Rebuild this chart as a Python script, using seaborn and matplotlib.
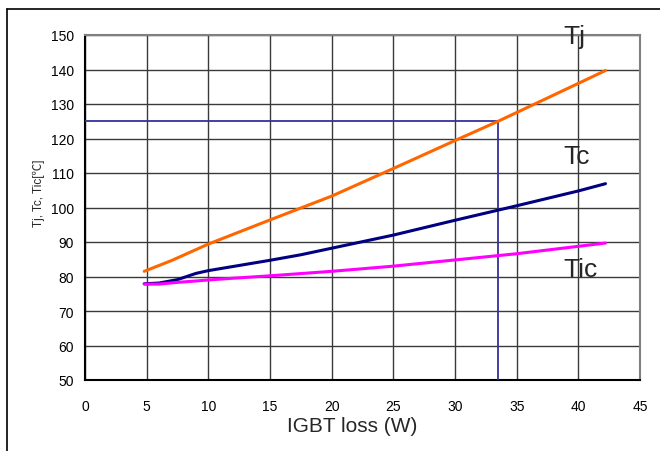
import pandas as pd
import matplotlib.pyplot as plt
import seaborn as sns
from matplotlib.lines import Line2D

# IGBT loss (W) vs temperature
tj_x = [4.8, 7.0, 10.0, 11.5, 15.0, 20.0, 25.0, 30.0, 33.5, 37.0, 42.2]
tj_y = [81.5, 84.6, 89.4, 91.5, 96.4, 103.3, 111.3, 119.4, 125.0, 130.9, 139.7]

tc_x = [4.8, 6.0, 7.5, 9.0, 10.0, 12.0, 15.0, 17.5, 20.0, 25.0, 30.0, 35.0, 40.0, 42.2]
tc_y = [77.9, 78.1, 79.1, 80.9, 81.7, 82.9, 84.7, 86.3, 88.2, 92.0, 96.3, 100.5, 104.8, 106.9]

tic_x = [4.8, 6.0, 7.5, 9.0, 10.0, 12.0, 15.0, 20.0, 25.0, 30.0, 35.0, 42.2]
tic_y = [77.8, 77.8, 78.3, 78.7, 79.0, 79.5, 80.2, 81.5, 83.0, 84.8, 86.6, 89.7]

# operating point marker lines
op_x = 33.5
op_y = 125

series = ['Tj', 'Tc', 'Tic']
colors = ['#FF6600', '#000080', '#FF00FF']

df = pd.concat([
    pd.DataFrame({'loss': tj_x, 'temp': tj_y, 'name': 'Tj'}),
    pd.DataFrame({'loss': tc_x, 'temp': tc_y, 'name': 'Tc'}),
    pd.DataFrame({'loss': tic_x, 'temp': tic_y, 'name': 'Tic'}),
])

sns.set_theme(style='white')
plt.rcParams['font.family'] = ['Liberation Sans', 'Noto Sans CJK JP', 'DejaVu Sans']

fig = plt.figure(figsize=(6.6, 4.52), dpi=100)
ax = fig.add_axes([85 / 660, 1 - 381 / 452, 555 / 660, 345 / 452])

# grid first so lines sit on top
ax.set_xticks(range(0, 46, 5))
ax.set_yticks(range(50, 151, 10))
ax.grid(True, color='#3a3a3a', lw=1.0)
ax.set_axisbelow(True)

ax.plot([0, op_x, op_x], [op_y, op_y, 50], color='#333399', lw=1.3, zorder=3)

sns.lineplot(data=df, x='loss', y='temp', hue='name', hue_order=series,
             palette=colors, sort=False, estimator=None, lw=2.2,
             legend=False, ax=ax, zorder=4)

ax.set_xlim(0, 45)
ax.set_ylim(50, 150)

ax.tick_params(axis='both', direction='in', length=3, labelsize=10, colors='black')
ax.tick_params(axis='x', pad=14)
ax.tick_params(axis='y', pad=8)

for s in ['left', 'bottom']:
    ax.spines[s].set_color('black')
    ax.spines[s].set_linewidth(1.5)
for s in ['top', 'right']:
    ax.spines[s].set_color('#808080')
    ax.spines[s].set_linewidth(1.5)

ax.set_xlabel('IGBT loss (W)', fontsize=15)
ax.xaxis.set_label_coords(0.481, -0.105)
ax.set_ylabel('Tj, Tc, Tic[℃]', fontsize=8.5)
ax.yaxis.set_label_coords(-0.072, 0.545)

# curve names on the right
ax.text(38.8, 147.7, 'Tj', fontsize=19, va='baseline', clip_on=False, zorder=5)
ax.text(38.8, 112.9, 'Tc', fontsize=19, va='baseline', zorder=5)
ax.text(38.8, 80.1, 'Tic', fontsize=19, va='baseline', zorder=5)

# outer frame (top and left edges visible in the reference)
fig.add_artist(Line2D([7 / 660, 7 / 660], [0, 1 - 10 / 452], color='black', lw=1.2,
                      transform=fig.transFigure))
fig.add_artist(Line2D([7 / 660, 1], [1 - 10 / 452, 1 - 10 / 452], color='black', lw=1.2,
                      transform=fig.transFigure))

fig.savefig('out.png', dpi=100, facecolor='white')
